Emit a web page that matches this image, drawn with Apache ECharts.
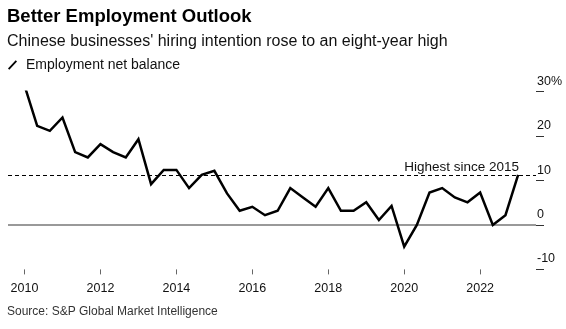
<!DOCTYPE html>
<html><head><meta charset="utf-8">
<script src="https://cdn.jsdelivr.net/npm/echarts@6/dist/echarts.min.js"></script>
<style>html,body{margin:0;padding:0;background:#fff}#c{width:566px;height:329px}</style>
</head><body><div id="c"></div>
<script>
// Survey periods (three per year) and employment net balance (%)
const periods = [
  '2010-01','2010-05','2010-09','2011-01','2011-05','2011-09','2012-01','2012-05','2012-09',
  '2013-01','2013-05','2013-09','2014-01','2014-05','2014-09','2015-01','2015-05','2015-09',
  '2016-01','2016-05','2016-09','2017-01','2017-05','2017-09','2018-01','2018-05','2018-09',
  '2019-01','2019-05','2019-09','2020-01','2020-05','2020-09','2021-01','2021-05','2021-09',
  '2022-01','2022-05','2022-09','2023-01'
];
const netBalance = [
  31.4, 22.3, 21.2, 24.2, 16.4, 15.2, 18.2, 16.4, 15.2,
  19.3, 9.2, 12.4, 12.4, 8.3, 11.3, 12.2, 7.1, 3.2,
  4.1, 2.2, 3.2, 8.3, 6.2, 4.1, 8.3, 3.2, 3.2,
  5.1, 1.1, 4.3, -4.9, 0.0, 7.3, 8.3, 6.2, 5.1,
  7.3, 0.0, 2.2, 11.3
];
const yearTicks = [2010, 2012, 2014, 2016, 2018, 2020, 2022];
const yTicks = [-10, 0, 10, 20, 30];
const highestLevel = 11.3;
const highestLabel = 'Highest since 2015';

const FONT = "'Liberation Sans', Arial, Helvetica, sans-serif";
function toYear(p) { const [y, m] = p.split('-').map(Number); return y + (m - 1) / 12; }
const seriesData = periods.map((p, i) => [toYear(p), netBalance[i]]);

const chart = echarts.init(document.getElementById('c'), null, {renderer: 'canvas'});
chart.setOption({
  animation: false,
  backgroundColor: '#fff',
  textStyle: {fontFamily: FONT},
  title: [
    {text: 'Better Employment Outlook', left: 7, top: 7, padding: 0,
     textStyle: {fontFamily: FONT, fontSize: 18.5, fontWeight: 'bold', color: '#000'}},
    {text: "Chinese businesses' hiring intention rose to an eight-year high", left: 7, top: 34, padding: 0,
     textStyle: {fontFamily: FONT, fontSize: 16, fontWeight: 'normal', color: '#111'}},
    {text: 'Source: S&P Global Market Intelligence', left: 7, top: 306, padding: 0,
     textStyle: {fontFamily: FONT, fontSize: 12, fontWeight: 'normal', color: '#333'}}
  ],
  legend: {
    left: 8, top: 58, padding: 0, itemWidth: 9, itemHeight: 10,
    selectedMode: false,
    data: [{name: 'Employment net balance', icon: 'path://M0,9 L8.2,0 L9.6,1.3 L1.4,10.3 Z'}],
    textStyle: {fontFamily: FONT, fontSize: 14, color: '#111', padding: [0, 0, 0, 4]}
  },
  grid: {left: 8, right: 30, top: 91.7, bottom: 59.6, containLabel: false},
  xAxis: {
    type: 'value', min: 2009.565, max: 2023.471,
    axisLine: {show: false, onZero: false},
    splitLine: {show: false},
    axisTick: {show: true, length: 5, customValues: yearTicks, lineStyle: {color: '#666', width: 1}},
    axisLabel: {customValues: yearTicks, margin: 13, fontFamily: FONT, fontSize: 12.5, color: '#111',
      formatter: v => String(Math.round(v))}
  },
  yAxis: {
    type: 'value', position: 'right', min: -10, max: 30, interval: 10,
    axisLine: {show: false},
    splitLine: {show: false},
    axisTick: {show: true, length: 8, lineStyle: {color: '#333', width: 1}},
    axisLabel: {inside: false, margin: 1, align: 'left', verticalAlign: 'bottom', padding: [0, 0, 4, 0],
      fontFamily: FONT, fontSize: 12.5, color: '#111',
      formatter: v => v === 30 ? '30%' : String(v)}
  },
  series: [{
    name: 'Employment net balance',
    type: 'line',
    data: seriesData,
    symbol: 'none',
    lineStyle: {color: '#000', width: 2.5, join: 'miter'},
    itemStyle: {color: '#000'},
    z: 5,
    markLine: {
      silent: true, symbol: 'none', animation: false,
      data: [
        {yAxis: 0, lineStyle: {color: '#999', width: 2, type: 'solid'}, label: {show: false}},
        {yAxis: highestLevel, lineStyle: {color: '#000', width: 1.2, type: [4, 3]},
         label: {show: true, position: 'insideEndTop', formatter: highestLabel, distance: 0,
           padding: [0, 17, 0, 0], fontFamily: FONT, fontSize: 13.5, color: '#111'}}
      ]
    }
  }]
});
</script></body></html>
